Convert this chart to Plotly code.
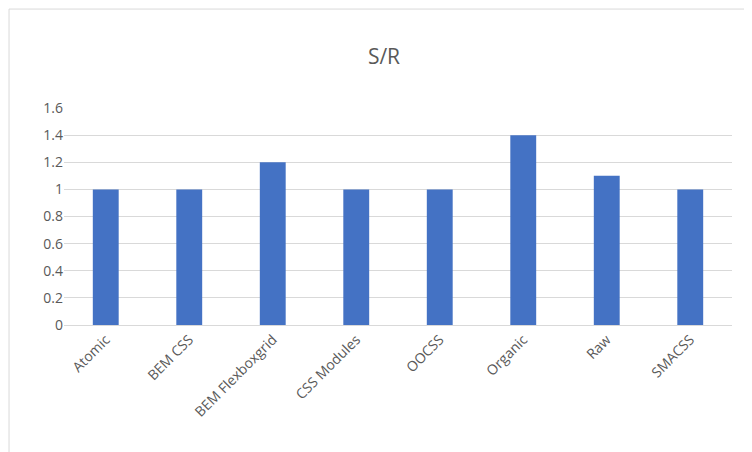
import plotly.graph_objects as go

categories = ["Atomic", "BEM CSS", "BEM Flexboxgrid", "CSS Modules", "OOCSS", "Organic", "Raw", "SMACSS"]
values = [1, 1, 1.2, 1, 1, 1.4, 1.1, 1]
tick_vals = [0, 0.2, 0.4, 0.6, 0.8, 1, 1.2, 1.4, 1.6]
tick_text = ["0", "0.2", "0.4", "0.6", "0.8", "1", "1.2", "1.4", "1.6"]

fig = go.Figure(go.Bar(x=categories, y=values, marker=dict(color="#4472C4", line_width=0)))
fig.update_layout(
    width=752, height=452,
    margin=dict(l=56, r=28, t=100, b=135, autoexpand=False),
    paper_bgcolor="white", plot_bgcolor="white",
    font=dict(family="Open Sans, Calibri, Carlito, sans-serif", color="#595959", size=14),
    title=dict(text="S/R", x=0.5, xanchor="center", y=0.893, yanchor="middle",
               font=dict(size=21, color="#595959")),
    bargap=0.69, showlegend=False,
    shapes=[dict(type="rect", xref="paper", yref="paper", x0=-0.0823, x1=1.039, y0=-0.613, y1=1.456,
                 line=dict(color="#D9D9D9", width=1))],
)
fig.update_xaxes(tickangle=-45, showgrid=False, showline=True, linecolor="#D9D9D9", linewidth=1,
                 ticks="", automargin=False, tickfont=dict(size=14, color="#595959"))
fig.update_yaxes(range=[0, 1.6], tickvals=tick_vals, ticktext=tick_text, showgrid=True,
                 gridcolor="#D9D9D9", gridwidth=1, zeroline=False, showline=False,
                 ticks="", automargin=False, tickfont=dict(size=14, color="#595959"))
fig.write_html("out.html")
